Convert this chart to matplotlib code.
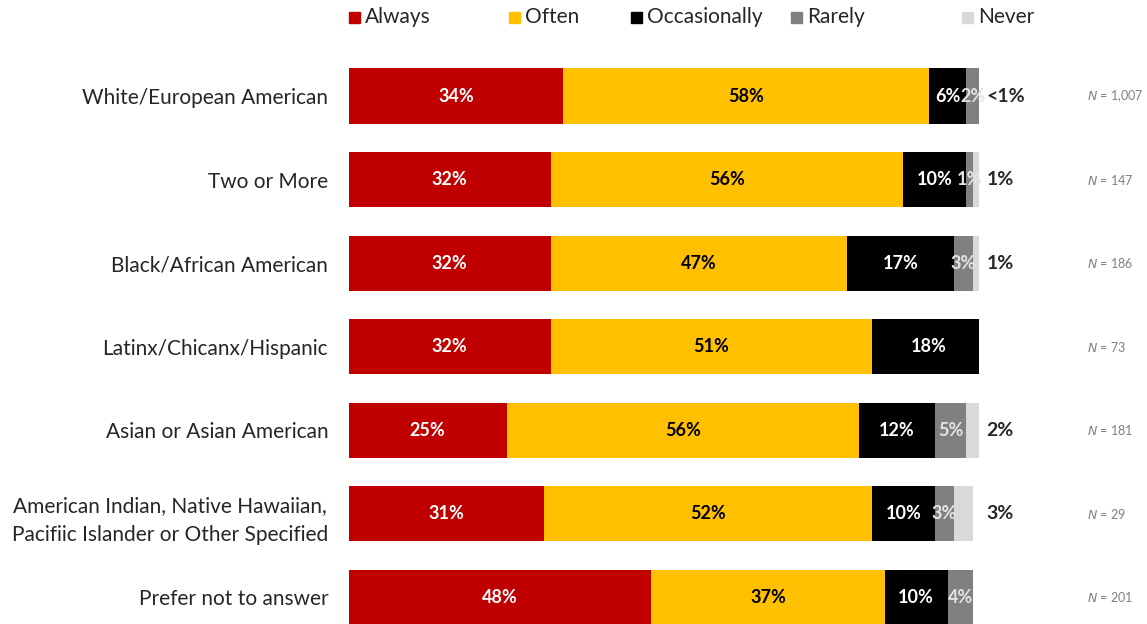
import matplotlib.pyplot as plt
from matplotlib.patches import Rectangle
import numpy as np

plt.rcParams['font.family'] = ['Lato', 'DejaVu Sans']

# survey responses by group (percent)
groups = ['White/European American', 'Two or More', 'Black/African American',
          'Latinx/Chicanx/Hispanic', 'Asian or Asian American',
          'American Indian, Native Hawaiian,\nPacifiic Islander or Other Specified',
          'Prefer not to answer']
always = [34, 32, 32, 32, 25, 31, 48]
often = [58, 56, 47, 51, 56, 52, 37]
occasionally = [6, 10, 17, 18, 12, 10, 10]
rarely = [2, 1, 3, 0, 5, 3, 4]
never = [0.5, 1, 1, 0, 2, 3, 0]
n_sizes = ['1,007', '147', '186', '73', '181', '29', '201']

series = [('Always', always, '#C00000', 'white'),
          ('Often', often, '#FFC000', 'black'),
          ('Occasionally', occasionally, '#000000', 'white'),
          ('Rarely', rarely, '#808080', '#E4E4E4'),
          ('Never', never, '#D9D9D9', 'black')]

# legend entry positions (figure pixels from left)
legend_x = [349, 509, 631, 791, 962]

W, H = 1147, 624
fig = plt.figure(figsize=(W / 100, H / 100), dpi=100)
ax = fig.add_axes([349 / W, 0, (979 - 349) / W, 1])

y = np.arange(len(groups))
left = np.zeros(len(groups))
for name, vals, color, tcolor in series:
    vals = np.array(vals, dtype=float)
    ax.barh(y, vals, left=left, height=0.66, color=color, label=name)
    for i, v in enumerate(vals):
        if v <= 0:
            continue
        txt = '<1%' if v < 1 else '%d%%' % v
        if name == 'Never':
            ax.text(101.2, y[i], txt, ha='left', va='center', fontsize=14,
                    fontweight='bold', color='#262626')
        else:
            ax.text(left[i] + v / 2, y[i], txt, ha='center', va='center',
                    fontsize=13, fontweight='bold', color=tcolor)
    left += vals

for i, n in enumerate(n_sizes):
    ax.text(117.2, y[i], r'$\it{N}$' + ' = ' + n, ha='left', va='center',
            fontsize=9, color='#7F7F7F')

ax.set_xlim(0, 100)
ax.set_ylim(6.32, -1.15)
ax.set_yticks(y)
ax.set_yticklabels(groups, fontsize=15, color='#262626', multialignment='center',
                   linespacing=1.55)
ax.tick_params(axis='y', length=0, pad=15)
ax.set_xticks([])
for s in ax.spines.values():
    s.set_visible(False)

# legend drawn by hand so entries sit at fixed spots
for (name, vals, color, tcolor), lx in zip(series, legend_x):
    fig.patches.append(Rectangle((lx / W, 1 - 23 / H), 11 / W, 11 / H,
                                 transform=fig.transFigure, color=color))
    fig.text((lx + 16) / W, 1 - 17 / H, name, ha='left', va='center',
             fontsize=15, color='#262626')

fig.savefig('out.png', dpi=100)
